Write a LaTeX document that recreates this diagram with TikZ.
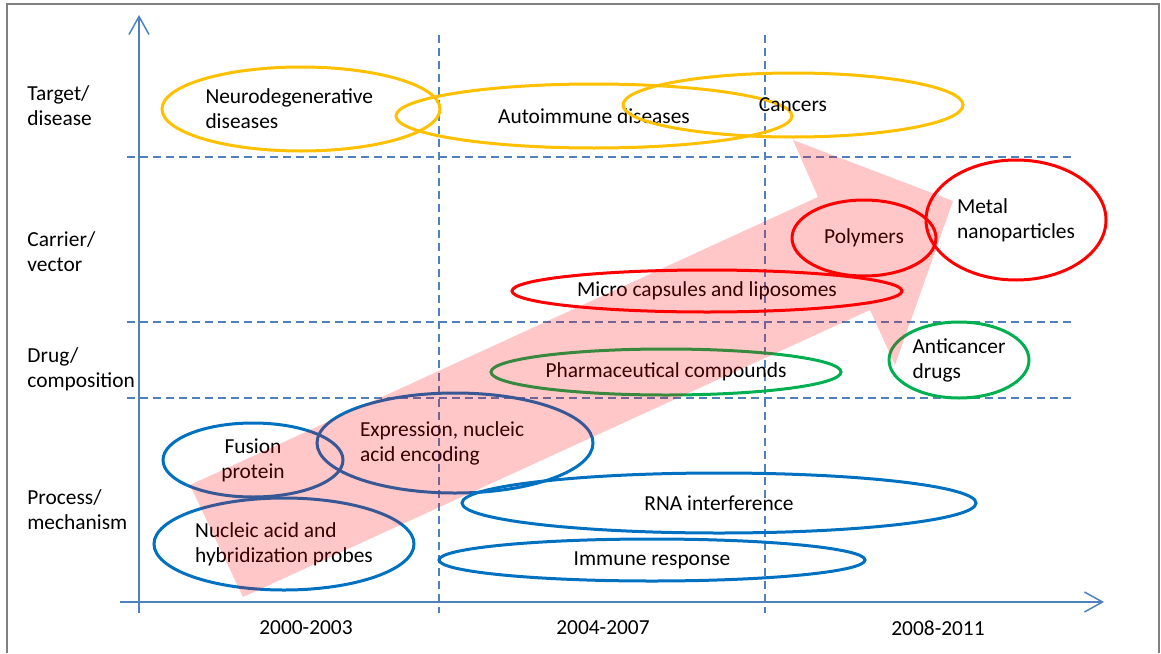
\documentclass[tikz,border=0pt]{standalone}
\usepackage{fontspec}
\setmainfont{Carlito}
\usetikzlibrary{shapes.geometric,arrows.meta}

\begin{document}
\begin{tikzpicture}
		[x=0.5pt,y=-0.5pt,line cap=butt,
		font=\fontsize{10.7}{12.5}\selectfont\frenchspacing,
		%Styles
		axis line/.style={axiscolor,line width=0.75pt,-{Straight Barb[length=9pt,width=10pt]}},
		grid line/.style={axiscolor,line width=0.75pt,dash pattern=on 4pt off 2.5pt},
		topic/.style={ellipse,draw=#1,line width=1.5pt,inner sep=0pt,align=center},
		row text/.style={anchor=west,align=left,inner sep=0pt},
		period text/.style={inner sep=0pt}
		]
		
		%Colors
		\definecolor{axiscolor}{RGB}{79,129,189}	%axes and grid
		\definecolor{diseasecolor}{RGB}{255,192,0}
		\definecolor{carriercolor}{RGB}{255,0,0}
		\definecolor{drugcolor}{RGB}{0,176,80}
		\definecolor{processcolor}{RGB}{0,112,192}
		
		\useasboundingbox (0,0) rectangle (1161,653);
		\draw[gray,line width=1pt] (7,653) -- (7,4) -- (1159,4) -- (1159,653);
		
		%The graphic
		\coordinate (O) at (139,602);
		\coordinate (Ybot) at (139,613);
		\coordinate (Ytop) at (139,15);
		\coordinate (Xbeg) at (120,602);
		\coordinate (Xend) at (1104,602);
		
		\draw[grid line] (127,157) -- (1073,157);
		\draw[grid line] (127,322) -- (1073,322);
		\draw[grid line] (127,398) -- (1073,398);
		\draw[grid line] (439,35) -- (439,613);
		\draw[grid line] (765,35) -- (765,613);
		
		\draw[axis line] (Ybot) -- (Ytop);
		\draw[axis line] (Xbeg) -- (Xend);
		
		\node[row text] (target) at (27,106) {Target/\\disease};
		\node[row text] (carrier) at (27,252) {Carrier/\\vector};
		\node[row text] (drug) at (27,369) {Drug/\\composition};
		\node[row text] (process) at (27,510) {Process/\\mechanism};
		
		\node[period text] (p1) at (306,628) {2000-2003};
		\node[period text] (p2) at (603,628) {2004-2007};
		\node[period text] (p3) at (938,628) {2008-2011};
		
		%Target/disease
		\node[topic=diseasecolor,minimum width=139pt,minimum height=42pt,text width=95.5pt,align=flush left] (neuro) at (301,109) {Neurodegenerative\\diseases};
		\node[topic=diseasecolor,minimum width=198pt,minimum height=32pt] (autoimm) at (594,116) {Autoimmune diseases};
		\node[topic=diseasecolor,minimum width=170pt,minimum height=32pt] (cancers) at (793,105) {Cancers};
		
		%Carrier/vector
		\node[topic=carriercolor,minimum width=72pt,minimum height=38pt] (polymers) at (864,238) {Polymers};
		\node[topic=carriercolor,minimum width=90pt,minimum height=60pt,align=left] (metal) at (1016,220) {Metal\\nanoparticles};
		\node[topic=carriercolor,minimum width=195pt,minimum height=21pt] (capsules) at (707,291) {Micro capsules and liposomes};
		
		%Drug/composition
		\node[topic=drugcolor,minimum width=175pt,minimum height=23pt] (pharma) at (666,372) {Pharmaceutical compounds};
		\node[topic=drugcolor,minimum width=70pt,minimum height=38pt,align=left] (anticancer) at (959,360) {Anticancer\\drugs};
		
		%Process/mechanism
		\node[topic=processcolor,minimum width=90pt,minimum height=37pt] (fusion) at (253,460) {Fusion\\protein};
		\node[topic=processcolor,minimum width=130pt,minimum height=46pt,align=left] (nucleic) at (284,544) {Nucleic acid and\\hybridization probes};
		\node[topic=processcolor,minimum width=138pt,minimum height=50pt,text width=95pt,align=flush left] (expression) at (455,443) {Expression, nucleic\\acid encoding};
		\node[topic=processcolor,minimum width=257pt,minimum height=30pt] (rna) at (719,503) {RNA interference};
		\node[topic=processcolor,minimum width=213pt,minimum height=21pt] (immune) at (652,560) {Immune response};
		
		%Trend arrow
		\coordinate (A) at (243,597);
		\coordinate (B) at (190,485);
		\coordinate (C) at (818,197);
		\coordinate (D) at (793,140);
		\coordinate (E) at (953,201);
		\coordinate (F) at (895,365);
		\coordinate (G) at (870,310);
		\fill[red,opacity=0.22] (A) -- (B) -- (C) -- (D) -- (E) -- (F) -- (G) -- cycle;
	\end{tikzpicture}
\end{document}
